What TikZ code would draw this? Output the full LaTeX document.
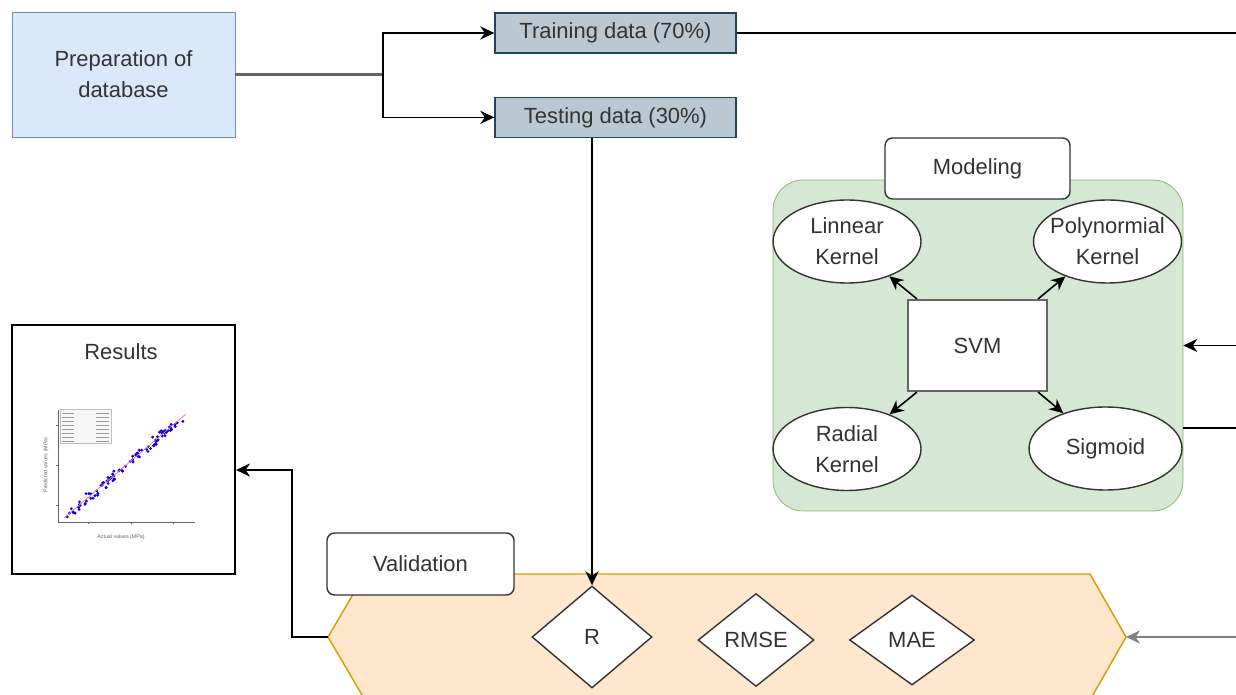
\documentclass[tikz,border=0pt]{standalone}
\usepackage{fontspec}
\setmainfont{Liberation Sans}
\usepackage{tikz}
\usetikzlibrary{shapes.geometric, arrows, arrows.meta, calc, positioning}
\definecolor{dbfill}{HTML}{DAE8FC}
\definecolor{dbdraw}{HTML}{6C8EBF}
\definecolor{datafill}{HTML}{BAC8D3}
\definecolor{datadraw}{HTML}{23445D}
\definecolor{modfill}{HTML}{D5E8D4}
\definecolor{moddraw}{HTML}{82B366}
\definecolor{valfill}{HTML}{FFE6CC}
\definecolor{valdraw}{HTML}{D79B00}
\tikzstyle{database} = [rectangle, thin, draw=dbdraw, fill=dbfill, minimum width=4.46cm, minimum height=2.5cm, align=center]
\tikzstyle{data} = [rectangle, thick, draw=datadraw, fill=datafill, minimum width=4.82cm, minimum height=0.8cm, text centered]
\tikzstyle{titlebox} = [rectangle, rounded corners=0.15cm, thick, draw=black!80, fill=white, text centered]
\tikzstyle{kernel} = [ellipse, thick, draw=black!80, fill=white, minimum width=2.96cm, minimum height=1.66cm, align=center, inner sep=0pt]
\tikzstyle{metric} = [diamond, thick, draw=black!80, fill=white, inner sep=0pt]
\tikzstyle{arrow} = [line width=0.9pt,->,>={Stealth[length=8pt,width=7.5pt]}]
\tikzstyle{wire} = [line width=0.9pt]

\begin{document}
\begin{tikzpicture}[x=0.02cm, y=-0.02cm, every node/.style={font=\fontsize{12.5}{17.5}\selectfont, text=black!80}]
		\clip (0,0) rectangle (1236,695);
		% data preparation
		\node (Prep) [database] at (123.5,74.5) {Preparation of\\database};
		\node (Train) [data] at (615.5,33) {Training data (70\%)};
		\node (Test) [data, below = 0.86cm of Train] {Testing data (30\%)};
		\coordinate (Split) at (383,74.5);
		\draw [wire, black!60, line width=1.4pt] (Prep.east) -- (Split);
		\draw [arrow] (Split) |- (Train.west);
		\draw [arrow] (Split) |- (Test.west);
		\coordinate (TrainOut) at (1236,33);
		\draw [wire] (Train.east) -- (TrainOut);
		% modeling
		\node (ModelArea) [rectangle, rounded corners=0.6cm, draw=moddraw, fill=modfill, minimum width=8.2cm, minimum height=6.62cm] at (978,345.5) {};
		\node (ModelTag) [titlebox, minimum width=3.7cm, minimum height=1.22cm] at (977.5,168.5) {Modeling};
		\node (SVM) [rectangle, draw=black!60, line width=1.2pt, fill=white, minimum width=2.78cm, minimum height=1.82cm] at (977.5,345.5) {SVM};
		\node (Lin) [kernel] at (847,241.5) {Linnear\\Kernel};
		\node (Poly) [kernel, inner xsep=-6pt] at (1107.5,241.5) {Polynormial\\Kernel};
		\node (Rad) [kernel] at (847,449) {Radial\\Kernel};
		\node (Sig) [kernel, minimum width=3.06cm] at (1105.5,448.5) {Sigmoid};
		\draw [arrow] ($(SVM.north west)+(10,0)$) -- (Lin);
		\draw [arrow] ($(SVM.north east)+(-10,0)$) -- (Poly);
		\draw [arrow] ($(SVM.south west)+(10,0)$) -- (Rad);
		\draw [arrow] ($(SVM.south east)+(-10,0)$) -- (Sig);
		\coordinate (ModelIn) at (1236,345.5);
		\coordinate (ModelOut) at (1236,428);
		\draw [arrow] (ModelIn) -- (ModelArea.east);
		\draw [wire] (ModelArea.east |- ModelOut) -- (ModelOut);
		% validation
		\coordinate (HexL) at (328,637);
		\coordinate (HexR) at (1126,637);
		\draw [valdraw, fill=valfill, thick] (HexL) -- (365,574) -- (1090,574) -- (HexR) -- (1090,700) -- (365,700) -- cycle;
		\node (ValTag) [titlebox, minimum width=3.74cm, minimum height=1.24cm] at (420.5,564) {Validation};
		\node (R) [metric, minimum width=2.4cm, minimum height=2.04cm] at (592,637) {R};
		\node (RMSE) [metric, minimum width=2.32cm, minimum height=1.86cm] at (756,640) {RMSE};
		\node (MAE) [metric, minimum width=2.5cm, minimum height=1.8cm] at (912,640) {MAE};
		\draw [arrow] (R.north |- Test.south) -- (R.north);
		\coordinate (ValIn) at (1236,637);
		\draw [arrow, gray] (ValIn) -- (HexR);
		% results
		\node (Results) [rectangle, draw=black, line width=1.2pt, fill=white, minimum width=4.46cm, minimum height=4.98cm] at (123.5,449.5) {};
		\node (ResTitle) at (121,352) {Results};
		\coordinate (Back) at (292,470);
		\draw [arrow] (HexL) -| (Back) -- (Back -| Results.east);
		% small scatter plot
		\draw [black!60, very thin] (58,410) -- (58,522) -- (195,522);
		\foreach \t in {425,465,505} \draw [black!60, very thin] (56,\t) -- (58,\t);
		\foreach \t in {88,131,173} \draw [black!60, very thin] (\t,522) -- (\t,524);
		\draw [black!25, fill=black!3, very thin] (60,409) rectangle (111,443);
		\foreach \t in {413,417,421,425,429,433,437,441} \draw [black!40, line width=0.15pt] (62,\t) -- (74,\t) (96,\t) -- (109,\t);
		\pgfmathsetseed{12}
		\foreach \k in {1,...,95} {
			\pgfmathsetmacro{\u}{rnd}
			\pgfmathsetmacro{\px}{68+114*\u+3*rand}
			\pgfmathsetmacro{\py}{515-97*\u+4*rand}
			\fill [blue] (\px,\py) circle (0.9pt);
		}
		\draw [red!55, thin] (64,518) -- (186,414);
		\node (AxisX) [font=\fontsize{3}{3}\selectfont, text=black!60] at (121,537) {Actual values (MPa)};
		\node (AxisY) [font=\fontsize{3}{3}\selectfont, text=black!60, rotate=90] at (46,465) {Predicted values (MPa)};
\end{tikzpicture}
\end{document}
